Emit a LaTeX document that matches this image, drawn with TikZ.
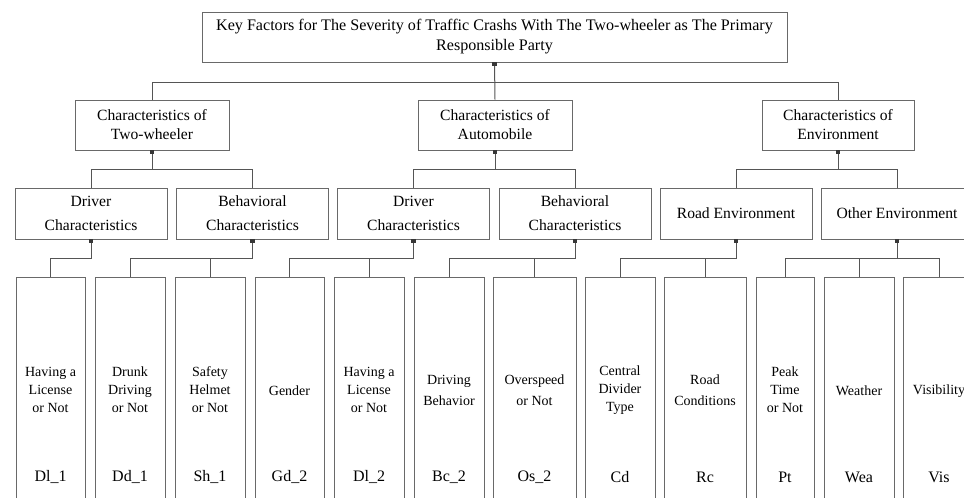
\documentclass[tikz,border=0pt]{standalone}
\usepackage{fontspec}
\setmainfont{Liberation Serif}
\definecolor{boxcol}{RGB}{105,105,105}
\definecolor{linecol}{RGB}{85,85,85}
\definecolor{sqcol}{RGB}{55,55,55}
\tikzset{
  box/.style={draw=boxcol, line width=1pt, rectangle, inner sep=0pt, align=center, text=black},
  rootbox/.style={box, minimum width=585pt, minimum height=50pt, font=\fontsize{16.1}{20}\selectfont},
  lonebox/.style={box, minimum width=154pt, minimum height=50pt, font=\fontsize{15.6}{19}\selectfont},
  ltwobox/.style={box, minimum width=152pt, minimum height=51pt, font=\fontsize{15.6}{24}\selectfont},
  leafbox/.style={box, anchor=north, minimum height=260pt},
  leaftext/.style={inner sep=0pt, align=center, font=\fontsize{14}{18}\selectfont},
  leaftexttwo/.style={inner sep=0pt, align=center, font=\fontsize{14}{21}\selectfont},
  leaflabel/.style={inner sep=0pt, font=\fontsize{16}{18}\selectfont},
  conn/.style={draw=linecol, line width=1pt},
}
\begin{document}
\begin{tikzpicture}[x=1pt,y=-1pt]
\useasboundingbox (0,0) rectangle (964,498);
\clip (0,0) rectangle (964,498);
\fill[white] (0,0) rectangle (964,498);

% root
\node[rootbox] (root) at (494.5,37) {Key Factors for The Severity of Traffic Crashs With The Two-wheeler as The Primary\\Responsible Party};

% level 1
\node[lonebox] (tw) at (152,125) {Characteristics of\\Two-wheeler};
\node[lonebox] (au) at (495,125) {Characteristics of\\Automobile};
\node[lonebox, minimum width=152pt] (en) at (838,125) {Characteristics of\\Environment};

% level 2
\node[ltwobox] (d1) at (91,213.5) {Driver\\Characteristics};
\node[ltwobox] (b1) at (252.5,213.5) {Behavioral\\Characteristics};
\node[ltwobox] (d2) at (413.5,213.5) {Driver\\Characteristics};
\node[ltwobox] (b2) at (575,213.5) {Behavioral\\Characteristics};
\node[ltwobox] (re) at (736,213.5) {Road Environment};
\node[ltwobox] (oe) at (897,213.5) {Other Environment};

% leaves
\node[leafbox, minimum width=69pt] (l1) at (50.5,277) {};
\node[leafbox, minimum width=70pt] (l2) at (130,277) {};
\node[leafbox, minimum width=70pt] (l3) at (210,277) {};
\node[leafbox, minimum width=69pt] (l4) at (289.5,277) {};
\node[leafbox, minimum width=70pt] (l5) at (369,277) {};
\node[leafbox, minimum width=70pt] (l6) at (449,277) {};
\node[leafbox, minimum width=83pt] (l7) at (534.5,277) {};
\node[leafbox, minimum width=70pt] (l8) at (620,277) {};
\node[leafbox, minimum width=82pt] (l9) at (705,277) {};
\node[leafbox, minimum width=58pt] (l10) at (785,277) {};
\node[leafbox, minimum width=70pt] (l11) at (859,277) {};
\node[leafbox, minimum width=72pt] (l12) at (939,277) {};

% leaf texts
\node[leaftext] (t1) at (50.5,390) {Having a\\License\\or Not};
\node[leaftext] (t2) at (130,390) {Drunk\\Driving\\or Not};
\node[leaftext] (t3) at (210,390) {Safety\\Helmet\\or Not};
\node[leaftext] (t4) at (289.5,391) {Gender};
\node[leaftext] (t5) at (369,390) {Having a\\License\\or Not};
\node[leaftexttwo] (t6) at (449,390) {Driving\\Behavior};
\node[leaftexttwo] (t7) at (534.5,390) {Overspeed\\or Not};
\node[leaftext] (t8) at (620,390) {Central\\Divider\\Type};
\node[leaftexttwo] (t9) at (705,390) {Road\\Conditions};
\node[leaftext] (t10) at (785,390) {Peak\\Time\\or Not};
\node[leaftext] (t11) at (859,391) {Weather};
\node[leaftext] (t12) at (939,391) {Visibility};

% leaf labels
\node[leaflabel] (c1) at (50.5,477) {Dl\_1};
\node[leaflabel] (c2) at (130,477) {Dd\_1};
\node[leaflabel] (c3) at (210,477) {Sh\_1};
\node[leaflabel] (c4) at (289.5,477) {Gd\_2};
\node[leaflabel] (c5) at (369,477) {Dl\_2};
\node[leaflabel] (c6) at (449,477) {Bc\_2};
\node[leaflabel] (c7) at (534.5,477) {Os\_2};
\node[leaflabel] (c8) at (620,477) {Cd};
\node[leaflabel] (c9) at (705,477) {Rc};
\node[leaflabel] (c10) at (785,477) {Pt};
\node[leaflabel] (c11) at (859,477) {Wea};
\node[leaflabel] (c12) at (939,477) {Vis};

% bus coordinates
\coordinate (bus0) at (0,82);
\coordinate (bus1) at (0,169);
\coordinate (bus2) at (0,258);

% root -> level 1
\draw[conn] (root.south) -- (au.north);
\draw[conn] (tw.north) -- (tw.north |- bus0) -| (en.north);

% level 1 -> level 2
\draw[conn] (tw.south) -- (tw.south |- bus1);
\draw[conn] (d1.north) -- (d1.north |- bus1) -| (b1.north);
\draw[conn] (au.south) -- (au.south |- bus1);
\draw[conn] (d2.north) -- (d2.north |- bus1) -| (b2.north);
\draw[conn] (en.south) -- (en.south |- bus1);
\draw[conn] (re.north) -- (re.north |- bus1) -| (oe.north);

% level 2 -> leaves
\draw[conn] (d1.south) -- (d1.south |- bus2) -| (l1.north);
\draw[conn] (l2.north) -- (l2.north |- bus2) -| (b1.south);
\draw[conn] (l3.north) -- (l3.north |- bus2);
\draw[conn] (l4.north) -- (l4.north |- bus2) -| (d2.south);
\draw[conn] (l5.north) -- (l5.north |- bus2);
\draw[conn] (l6.north) -- (l6.north |- bus2) -| (b2.south);
\draw[conn] (l7.north) -- (l7.north |- bus2);
\draw[conn] (l8.north) -- (l8.north |- bus2) -| (re.south);
\draw[conn] (l9.north) -- (l9.north |- bus2);
\draw[conn] (l10.north) -- (l10.north |- bus2) -| (l12.north);
\draw[conn] (l11.north) -- (l11.north |- bus2);
\draw[conn] (oe.south) -- (oe.south |- bus2);

% small squares
\foreach \n in {root,tw,au,en,d1,b1,d2,b2,re,oe}{
  \fill[sqcol] (\n.south) ++(-2.2,-0.5) rectangle ++(4.4,4.4);
}
\end{tikzpicture}
\end{document}
